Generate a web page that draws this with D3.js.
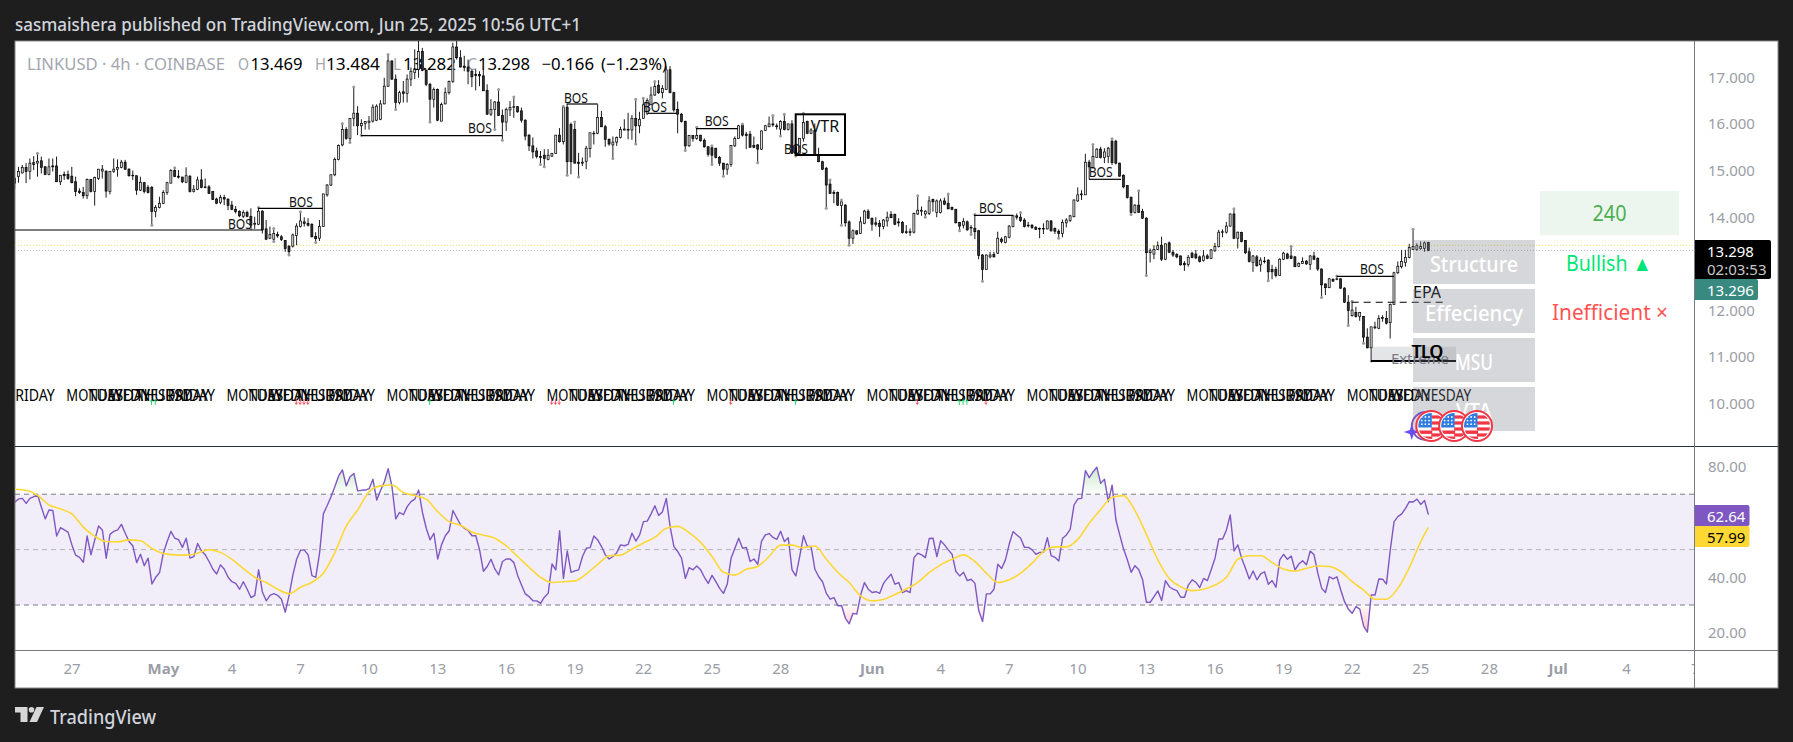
<!DOCTYPE html>
<html><head><meta charset="utf-8"><title>LINKUSD 4h</title>
<script src="https://cdn.jsdelivr.net/npm/d3@7/dist/d3.min.js"></script>
<style>html,body{margin:0;padding:0;background:#1e1e1e;overflow:hidden}svg{display:block}text{font-family:"Noto Sans",Roboto,sans-serif}</style>
</head><body><div id="c"></div>
<script>
const opens=[14.74,14.88,14.96,15.08,14.99,15.18,15.17,15.22,15.09,14.93,15.11,15.11,14.77,14.93,14.93,14.89,14.77,14.57,14.54,14.47,14.82,14.56,14.84,15.00,15.00,14.56,14.99,15.04,15.08,15.19,15.04,14.91,14.90,14.59,14.75,14.65,14.65,14.13,14.22,14.31,14.54,14.74,15.01,14.89,14.87,14.76,14.89,14.56,14.61,14.81,14.66,14.66,14.56,14.40,14.33,14.43,14.40,14.27,14.18,14.13,14.03,14.11,14.03,13.86,13.86,14.14,13.76,13.56,13.54,13.64,13.59,13.51,13.39,13.39,13.62,13.81,13.91,13.88,13.86,13.60,13.56,13.81,14.49,14.70,14.92,15.25,15.56,15.89,15.70,16.13,16.24,15.97,16.02,16.04,16.07,16.09,16.11,16.44,16.82,17.36,16.97,16.47,16.70,16.66,16.97,17.11,17.18,17.56,17.16,16.86,16.54,16.75,16.07,16.44,16.68,16.92,17.66,17.43,17.25,17.23,17.14,17.07,17.07,17.04,16.73,16.22,16.32,16.48,16.19,16.05,16.31,16.36,16.38,16.29,16.09,15.77,15.54,15.43,15.31,15.34,15.25,15.32,15.38,15.77,15.63,16.37,16.00,15.89,15.19,15.17,15.21,15.48,15.81,15.81,16.15,15.95,15.68,15.56,15.62,15.72,15.88,15.88,15.88,16.13,15.97,16.13,16.24,16.42,16.63,16.84,16.68,16.75,17.17,16.68,16.32,16.22,16.06,15.54,15.76,15.70,15.77,15.66,15.52,15.50,15.49,15.29,15.17,15.04,15.14,15.54,15.70,15.99,15.79,15.79,15.55,15.56,15.47,15.87,15.95,16.01,15.97,15.90,16.06,15.89,16.01,15.52,15.38,15.70,16.06,15.81,15.87,15.34,15.20,15.06,14.72,14.54,14.54,14.26,14.27,13.91,13.56,13.72,13.66,13.88,14.14,13.99,13.89,13.88,13.81,13.93,14.07,14.07,13.91,13.90,13.70,13.70,13.69,14.08,14.14,14.08,14.09,14.39,14.11,14.11,14.36,14.31,14.22,14.18,13.90,13.84,13.91,13.78,13.77,13.72,13.20,12.89,13.16,13.21,13.24,13.54,13.47,13.58,13.81,14.04,14.01,13.95,13.84,13.84,13.79,13.77,13.76,13.76,13.93,13.77,13.71,13.66,13.89,13.94,14.02,14.36,14.49,14.49,15.19,15.08,15.29,15.47,15.29,15.31,15.64,15.64,15.17,14.91,14.69,14.44,14.11,14.27,14.13,13.99,13.25,13.22,13.32,13.41,13.11,13.46,13.26,13.21,13.18,13.02,13.00,13.24,13.22,13.16,13.08,13.18,13.13,13.29,13.38,13.69,13.69,13.82,14.08,13.56,13.68,13.51,13.27,13.04,13.16,12.99,13.06,13.09,12.89,12.89,12.76,13.11,13.22,13.18,13.16,12.96,13.02,13.07,13.00,13.18,13.13,12.90,12.58,12.50,12.68,12.68,12.69,12.49,12.19,11.90,11.97,11.88,11.88,11.44,11.21,11.64,11.63,11.84,11.84,11.75,12.14,12.82,12.95,13.04,13.15,13.32,13.32,13.34,13.34,13.469];
const highs=[14.88,15.09,15.13,15.17,15.27,15.32,15.38,15.31,15.11,15.27,15.27,15.31,14.91,14.99,15.01,15.09,14.88,14.63,14.66,14.84,14.82,14.88,15.04,15.13,15.01,14.99,15.27,15.25,15.24,15.24,15.06,15.01,14.90,14.88,14.77,14.70,14.68,14.27,14.45,14.59,14.77,15.04,15.07,15.02,14.88,15.08,14.91,14.70,14.88,15.04,14.84,14.70,14.57,14.43,14.49,14.49,14.41,14.36,14.25,14.16,14.16,14.15,14.20,14.02,14.22,14.16,13.95,13.81,13.77,13.70,13.63,13.52,13.41,13.66,13.88,14.13,14.01,13.99,13.88,13.69,13.95,14.51,14.72,14.93,15.29,15.57,16.02,15.94,16.13,16.80,16.39,16.11,16.07,16.18,16.43,16.43,16.52,17.00,17.50,17.37,17.07,16.72,16.93,17.07,17.22,17.61,17.85,17.64,17.18,16.89,16.79,16.77,16.47,16.79,16.94,17.75,17.85,17.59,17.47,17.39,17.18,17.18,17.14,17.18,16.86,16.54,16.50,16.75,16.32,16.36,16.50,16.59,16.39,16.36,16.11,15.79,15.72,15.50,15.43,15.47,15.47,15.39,15.77,15.92,16.39,16.44,16.04,16.05,15.39,15.29,15.54,15.82,15.86,16.43,16.29,15.99,15.70,15.74,15.74,15.95,16.11,16.25,16.20,16.54,16.27,16.56,16.56,16.81,16.92,16.95,16.84,17.25,17.25,16.70,16.49,16.24,16.08,15.77,15.77,15.94,15.77,15.70,15.54,15.54,15.49,15.32,15.17,15.17,15.56,15.74,15.99,16.01,15.84,15.86,15.74,15.58,15.87,15.99,16.17,16.19,16.02,16.09,16.22,16.02,16.09,15.54,15.70,16.24,16.08,15.92,16.02,15.50,15.22,15.09,14.81,14.59,14.56,14.38,14.29,13.94,13.75,13.72,14.02,14.17,14.18,14.00,14.01,13.95,13.97,14.13,14.14,14.09,13.99,13.93,13.84,13.77,14.11,14.47,14.24,14.16,14.46,14.41,14.39,14.41,14.43,14.51,14.24,14.19,13.91,13.99,13.94,13.84,14.07,13.74,13.22,13.21,13.27,13.27,13.70,13.58,13.61,13.84,14.06,14.09,14.11,13.99,13.91,13.86,13.82,13.79,13.88,13.94,13.95,13.79,13.75,13.96,13.99,14.06,14.39,14.65,14.59,15.37,15.24,15.57,15.49,15.52,15.49,15.52,15.69,15.67,15.18,14.93,14.70,14.45,14.29,14.58,14.19,14.01,13.34,13.41,13.49,13.59,13.45,13.49,13.31,13.24,13.19,13.07,13.20,13.27,13.31,13.19,13.31,13.22,13.33,13.46,13.74,13.75,13.91,14.09,14.19,13.70,13.70,13.52,13.36,13.20,13.20,13.15,13.16,13.11,12.99,12.95,13.13,13.27,13.25,13.39,13.18,13.04,13.15,13.09,13.20,13.27,13.15,12.91,12.59,12.71,12.70,12.75,12.70,12.51,12.34,12.21,12.09,11.98,11.89,11.63,11.66,11.77,11.91,11.91,12.00,12.16,12.84,13.06,13.31,13.31,13.44,13.75,13.45,13.49,13.49,13.484];
const lows=[14.62,14.75,14.95,14.74,14.82,15.02,14.88,14.95,14.91,14.91,14.99,14.77,14.70,14.81,14.81,14.74,14.46,14.51,14.41,14.40,14.54,14.26,14.81,14.84,14.43,14.50,14.96,14.88,15.06,15.02,14.88,14.81,14.49,14.57,14.52,14.52,13.84,14.01,14.20,14.29,14.49,14.74,14.87,14.84,14.74,14.74,14.54,14.54,14.59,14.63,14.63,14.51,14.38,14.29,14.29,14.27,14.16,14.16,14.09,14.01,13.99,14.01,13.77,13.76,13.84,13.66,13.52,13.54,13.49,13.57,13.50,13.27,13.20,13.36,13.41,13.79,13.81,13.81,13.58,13.47,13.50,13.80,14.45,14.68,14.89,15.23,15.53,15.67,15.61,15.96,15.77,15.77,15.89,15.89,16.04,16.07,16.09,16.43,16.80,16.95,16.32,16.43,16.47,16.47,16.82,16.97,17.00,17.14,16.82,16.05,16.36,16.07,16.07,16.43,16.64,16.89,17.39,17.22,17.14,16.86,16.80,16.73,16.82,16.72,16.20,16.18,15.89,16.18,15.66,15.86,16.18,16.14,16.25,16.04,15.66,15.43,15.27,15.27,15.14,15.09,15.23,15.30,15.37,15.61,15.57,14.91,14.93,15.16,14.87,15.11,15.04,15.29,15.57,15.79,15.94,15.52,15.54,15.27,15.54,15.70,15.87,15.68,15.67,15.58,15.81,16.13,16.20,16.42,16.61,16.65,16.56,16.74,16.67,16.27,15.81,16.04,15.44,15.52,15.63,15.67,15.63,15.50,15.31,15.14,15.27,15.11,14.89,14.92,15.09,15.52,15.69,15.74,15.47,15.50,15.49,15.18,15.45,15.86,15.94,15.95,15.89,15.75,15.87,15.87,15.37,15.32,15.38,15.63,15.79,15.79,15.34,15.19,15.02,14.20,14.51,14.31,14.25,13.84,13.81,13.41,13.44,13.63,13.65,13.86,13.97,13.72,13.81,13.59,13.75,13.81,13.99,13.84,13.81,13.66,13.65,13.61,13.66,14.06,14.04,14.01,14.06,14.13,14.01,14.09,14.27,14.18,14.16,13.88,13.72,13.77,13.72,13.64,13.54,13.11,12.64,12.88,13.13,13.15,13.22,13.45,13.45,13.56,13.79,13.96,13.91,13.79,13.79,13.76,13.74,13.56,13.65,13.75,13.70,13.65,13.56,13.58,13.79,13.91,14.01,14.34,14.38,14.49,14.82,15.06,15.29,15.27,15.17,15.17,15.13,15.14,14.88,14.63,14.41,14.07,14.09,14.11,13.97,12.76,13.04,13.11,13.31,13.07,13.09,13.24,13.16,13.13,12.97,12.86,12.95,13.13,13.11,13.04,13.06,13.11,13.11,13.27,13.36,13.58,13.66,13.81,13.54,13.34,13.47,13.22,13.04,12.84,12.95,12.84,13.02,12.65,12.68,12.72,12.75,13.09,13.11,13.11,12.94,12.94,13.01,12.99,12.88,13.09,12.86,12.29,12.34,12.49,12.63,12.66,12.47,12.17,11.69,11.88,11.86,11.79,11.31,11.20,10.93,11.61,11.61,11.77,11.71,11.41,12.13,12.79,12.91,12.95,13.13,13.31,13.29,13.31,13.27,13.282];
const closes=[14.84,14.99,15.08,14.99,15.17,15.14,15.21,15.08,14.93,15.09,15.09,14.77,14.91,14.90,14.84,14.75,14.56,14.54,14.47,14.82,14.56,14.86,15.04,15.04,14.57,14.99,15.04,15.08,15.19,15.04,14.90,14.90,14.59,14.76,14.56,14.54,14.13,14.22,14.31,14.54,14.75,15.01,14.88,14.87,14.77,14.90,14.56,14.61,14.81,14.65,14.65,14.52,14.39,14.31,14.43,14.40,14.26,14.18,14.13,14.04,14.11,14.03,13.84,13.88,14.14,13.74,13.54,13.64,13.66,13.61,13.53,13.34,13.27,13.63,13.82,13.93,13.88,13.84,13.59,13.55,13.81,14.51,14.70,14.92,15.25,15.55,15.89,15.70,16.13,16.24,15.97,16.02,16.06,16.07,16.37,16.39,16.44,16.82,17.36,16.97,16.47,16.68,16.66,16.97,17.14,17.18,17.56,17.16,16.86,16.54,16.75,16.09,16.43,16.68,16.92,17.66,17.43,17.23,17.22,17.14,17.02,17.05,17.04,16.72,16.22,16.32,16.48,16.19,16.05,16.32,16.36,16.38,16.27,16.09,15.75,15.54,15.41,15.31,15.29,15.27,15.34,15.38,15.77,15.63,16.37,15.20,15.20,15.17,15.16,15.19,15.49,15.82,15.80,16.15,15.95,15.68,15.58,15.62,15.72,15.89,15.90,15.89,16.13,15.97,16.11,16.42,16.51,16.63,16.81,16.68,16.77,17.17,16.68,16.31,16.22,16.06,15.54,15.76,15.70,15.76,15.65,15.52,15.36,15.34,15.29,15.17,15.04,15.14,15.55,15.70,15.97,15.77,15.76,15.51,15.51,15.47,15.86,15.97,16.01,15.99,15.95,16.06,15.89,16.01,15.38,15.38,15.70,16.04,15.81,15.88,15.34,15.20,15.04,14.70,14.52,14.52,14.27,14.34,13.89,13.56,13.72,13.65,13.91,14.14,13.99,13.86,13.86,13.81,13.95,14.01,14.00,13.86,13.89,13.68,13.68,13.68,14.09,14.16,14.16,14.14,14.36,14.34,14.36,14.36,14.29,14.19,14.18,13.89,13.82,13.92,13.74,13.79,13.70,13.19,12.89,13.20,13.20,13.16,13.56,13.49,13.59,13.82,14.04,14.01,13.94,13.81,13.83,13.79,13.75,13.76,13.77,13.93,13.72,13.71,13.66,13.90,13.95,14.04,14.38,14.49,14.51,15.19,15.09,15.31,15.47,15.29,15.41,15.49,15.18,15.17,14.89,14.66,14.43,14.11,14.27,14.11,13.99,13.25,13.29,13.32,13.40,13.11,13.44,13.26,13.20,13.16,12.99,12.99,13.15,13.15,13.14,13.06,13.18,13.13,13.31,13.38,13.69,13.70,13.82,14.08,13.56,13.69,13.49,13.25,13.06,13.18,12.97,13.09,13.07,12.84,12.84,12.76,13.11,13.24,13.13,13.13,12.95,13.02,13.06,13.01,13.18,13.11,12.90,12.56,12.50,12.69,12.64,12.69,12.49,12.19,12.01,12.02,11.88,11.97,11.44,11.21,11.66,11.66,11.84,11.86,11.74,12.14,12.82,12.96,13.06,13.15,13.36,13.38,13.40,13.38,13.46,13.298];
const rsiValues=[67.1,68.3,68.5,66.7,68.5,69.1,69.7,65.3,61.1,64.3,64.1,54.9,57.9,57.1,56.3,51.7,48.0,47.2,45.4,54.9,48.1,53.5,58.5,57.1,46.9,55.5,56.6,57.1,59.1,55.9,52.9,51.3,45.3,48.3,44.2,46.9,37.6,40.0,41.7,48.7,52.9,56.6,54.1,53.6,50.8,54.1,46.9,47.5,52.2,49.5,48.1,45.7,42.9,41.2,44.5,42.9,40.0,38.4,37.8,35.7,38.4,35.7,32.7,33.5,42.7,34.7,31.5,33.5,34.1,33.5,32.1,27.4,33.5,40.9,46.6,49.8,49.8,48.1,40.6,40.0,48.7,62.9,65.9,69.1,72.7,76.6,78.75,73.0,76.3,77.5,71.2,71.4,71.5,72.0,75.4,67.9,71.3,74.5,79.2,72.7,61.1,63.4,62.6,65.5,67.3,68.2,71.5,63.4,57.7,53.5,55.9,46.6,51.7,55.0,56.7,64.1,61.5,58.9,57.7,56.9,55.0,55.0,49.9,42.2,43.9,46.5,43.0,40.9,45.7,46.6,46.6,45.3,40.6,37.2,34.0,33.0,31.5,31.5,30.6,32.8,34.2,44.8,42.7,56.8,39.6,49.5,41.8,42.3,42.7,47.5,50.5,50.7,54.9,53.5,51.1,48.1,46.6,47.5,48.9,51.7,51.4,51.9,55.9,53.1,55.3,60.1,60.3,62.9,65.8,62.3,63.7,68.5,58.3,51.1,49.3,46.9,39.6,43.5,42.7,44.1,42.7,40.0,37.8,40.7,38.4,36.0,34.2,37.6,46.9,50.5,54.1,50.5,50.8,45.7,46.6,44.7,53.1,55.3,55.8,54.4,53.7,56.6,52.9,54.3,42.7,40.5,47.5,55.0,51.1,51.1,42.9,40.2,38.4,34.2,32.1,32.7,29.7,29.8,25.2,23.2,27.0,26.7,33.6,38.1,35.7,34.5,34.8,34.2,37.8,39.6,41.1,37.5,38.1,34.5,35.2,34.5,47.1,48.7,48.1,47.1,54.0,54.1,47.5,53.2,51.7,49.9,48.3,42.1,40.5,41.8,38.8,39.3,37.8,28.0,24.0,34.0,34.0,35.7,44.7,43.2,46.3,52.0,56.5,55.3,54.1,50.8,50.8,49.9,48.3,49.0,49.0,54.3,47.8,47.2,45.9,54.1,55.3,57.3,66.1,68.3,68.5,78.5,76.0,78.1,79.7,73.9,75.4,67.3,73.3,60.7,55.3,50.2,46.3,41.8,44.2,42.7,39.1,31.0,31.0,33.0,35.1,31.6,38.8,36.6,35.7,35.2,32.8,32.8,37.2,39.1,38.2,36.3,39.6,38.8,42.7,46.9,53.8,53.8,57.1,62.5,49.5,51.7,46.9,43.3,39.4,42.3,39.1,41.2,42.0,37.5,38.8,36.4,46.3,48.3,46.5,47.7,42.7,44.8,46.0,44.5,49.5,48.1,41.4,36.0,34.5,40.2,39.4,40.2,35.4,31.2,28.5,27.0,29.4,28.5,22.4,20.2,33.6,33.6,39.4,39.3,37.6,49.9,60.1,61.9,62.9,64.9,67.3,67.2,68.2,66.3,67.7,62.64];
// RSI moving average as read every third bar, plus the latest bar
const rsiMaValues=[71.8,71.4,69.6,66.1,64.7,62.9,58.1,54.8,52.9,52.8,53.5,53.2,50.4,48.6,48.1,48.0,48.7,50.0,49.0,46.5,43.1,40.0,38.1,35.7,34.1,36.4,38.2,41.5,48.9,58.5,64.3,70.9,73.0,73.3,70.6,69.5,68.2,63.7,60.1,58.8,56.3,55.2,54.1,51.3,47.5,43.6,40.0,38.1,38.4,38.7,41.2,44.7,47.8,48.0,50.2,52.4,54.4,57.7,58.4,56.1,52.6,47.5,41.8,40.8,42.9,43.9,47.6,51.6,51.6,50.7,51.3,46.5,41.8,38.1,33.3,31.5,32.0,33.8,35.8,38.2,41.7,44.5,46.5,48.1,45.7,41.5,38.1,39.1,41.5,45.1,49.3,51.0,51.0,53.7,59.5,64.5,68.9,69.5,64.1,55.5,46.3,39.6,36.6,35.2,35.7,37.2,40.0,46.5,47.8,47.8,45.3,43.0,42.2,43.3,44.1,43.9,42.1,38.4,35.4,32.1,32.1,36.0,43.5,52.9,57.99];
const pivotHighBars=[6,42,64,68,75,86,89,98,127,131,144,147,163,165,168,179,183,191,199,202,207,214,217,237,245,252,264,283,288,295,320,335,347,351,367];
const pivotLowBars=[36,62,68,72,79,88,91,100,109,126,128,138,139,145,148,157,163,176,183,186,195,201,205,213,217,219,239,248,251,254,274,293,297,329,343,350,354,356];
const signalUpBars=[36,37,109,173,205,248,249,250];
const signalDownBars=[74,75,76,77,141,142,143,188,237,255];
const priceTicks=[10,11,12,14,15,16,17];
const rsiTicks=[20,40,80];
const weekdayNames=["MONDAY","TUESDAY","WEDNESDAY","THURSDAY","FRIDAY"];
const dateTicks=[[2025,3,27],[2025,4,1],[2025,4,4],[2025,4,7],[2025,4,10],[2025,4,13],[2025,4,16],[2025,4,19],[2025,4,22],[2025,4,25],[2025,4,28],[2025,5,1],[2025,5,4],[2025,5,7],[2025,5,10],[2025,5,13],[2025,5,16],[2025,5,19],[2025,5,22],[2025,5,25],[2025,5,28],[2025,6,1],[2025,6,4],[2025,6,7]].map(a=>new Date(Date.UTC(...a)));
const tableRows=["Structure","Effeciency","MSU","VTA"];
const lastPrice=13.298, ownPrice=13.296, yellowLevel=13.408, rsiLast=62.64, maLast=57.99;

const W=1793,H=742,PL=15,PR=1694,PE=1778,PT=41,PB=446,RB=650,BT=688;
const FOUR=4*3600e3, T0=Date.UTC(2025,3,24,12);
const barDate=i=>new Date(T0+i*FOUR);
const x=d3.scaleUtc().domain([Date.UTC(2025,3,27),Date.UTC(2025,6,7)]).range([71.5,1694.7]);
const y=d3.scaleLinear().domain([10,17]).range([404.3,77.75]);
const yR=d3.scaleLinear().domain([20,80]).range([632.7,466.5]);
const svg=d3.select("#c").append("svg").attr("width",W).attr("height",H).attr("viewBox",`0 0 ${W} ${H}`);
const defs=svg.append("defs");
const clip=(id,a,b,c,d)=>defs.append("clipPath").attr("id",id).append("rect").attr("x",a).attr("y",b).attr("width",c-a).attr("height",d-b);
clip("mainClip",PL,PT,PR,PB);clip("rsiClip",PL,PB,PR,RB);clip("timeClip",PL,RB,PR,BT);
clip("obClip",PL,PB,PR,yR(70));clip("osClip",PL,yR(30),PR,RB);
const g1=defs.append("linearGradient").attr("id","gOb").attr("x1",0).attr("x2",0).attr("y1",0).attr("y2",1);
g1.append("stop").attr("offset",0).attr("stop-color","#4caf50").attr("stop-opacity",.28);g1.append("stop").attr("offset",1).attr("stop-color","#4caf50").attr("stop-opacity",.02);
const g2=defs.append("linearGradient").attr("id","gOs").attr("x1",0).attr("x2",0).attr("y1",0).attr("y2",1);
g2.append("stop").attr("offset",0).attr("stop-color","#f23645").attr("stop-opacity",.02);g2.append("stop").attr("offset",1).attr("stop-color","#f23645").attr("stop-opacity",.3);

svg.append("rect").attr("width",W).attr("height",H).attr("fill","#1e1e1e");
svg.append("rect").attr("x",PL).attr("y",PT).attr("width",PE-PL).attr("height",BT-PT).attr("fill","#fff").attr("stroke","#8a8a8a");
const txt=(p,s,a,b,o={})=>{const t=p.append("text").attr("x",a).attr("y",b).attr("dominant-baseline","central").attr("font-size",o.size||14).attr("fill",o.fill||"#000").attr("text-anchor",o.anchor||"start").text(s);
 if(o.weight)t.attr("font-weight",o.weight);if(o.len)t.attr("textLength",o.len).attr("lengthAdjust","spacingAndGlyphs");return t;};

txt(svg,"sasmaishera published on TradingView.com, Jun 25, 2025 10:56 UTC+1",15,23.5,{size:18,fill:"#d1d4dc",weight:500,len:566});

// header legend
const hd=svg.append("g");
const hg="#a3a6af";
[["LINKUSD · 4h · COINBASE",27,hg,198],["O",238,hg,11],["13.469",250.5,"#000",52],["H",315,hg,11],["13.484",326,"#000",54],["L",393,hg,8],["13.282",403,"#000",53],["C",467,hg,10],["13.298",478,"#000",52],["−0.166",541.5,"#000",52.5],["(−1.23%)",601,"#000",66]].forEach(d=>txt(hd,d[0],d[1],63.5,{size:17,fill:d[2],len:d[3]}));

// main pane
const main=svg.append("g").attr("clip-path","url(#mainClip)");
main.append("line").attr("x1",PL).attr("x2",PR).attr("y1",y(yellowLevel)).attr("y2",y(yellowLevel)).attr("stroke","#f5e050").attr("stroke-dasharray","1 2");
main.append("line").attr("x1",PL).attr("x2",PR).attr("y1",y(lastPrice)).attr("y2",y(lastPrice)).attr("stroke","#b8bbc2").attr("stroke-dasharray","1 2");
const bars=d3.range(closes.length);
main.append("g").selectAll("line").data(bars).join("line").attr("x1",i=>x(barDate(i))+.3).attr("x2",i=>x(barDate(i))+.3).attr("y1",i=>y(highs[i])).attr("y2",i=>y(lows[i])).attr("stroke","#000").attr("stroke-width",.9);
main.append("g").selectAll("rect").data(bars).join("rect").attr("x",i=>x(barDate(i))-.7).attr("width",2)
 .attr("y",i=>y(Math.max(opens[i],closes[i]))).attr("height",i=>Math.max(.6,Math.abs(y(opens[i])-y(closes[i]))))
 .attr("fill",i=>closes[i]>=opens[i]?"#dcdcdc":"#333").attr("stroke","#000").attr("stroke-width",.7);
const dots=main.append("g").attr("fill","#9a9a9a");
pivotHighBars.forEach(i=>dots.append("circle").attr("cx",x(barDate(i))+.3).attr("cy",y(highs[i])).attr("r",1.5));
pivotLowBars.forEach(i=>dots.append("circle").attr("cx",x(barDate(i))+.3).attr("cy",y(lows[i])).attr("r",1.5));

// structure annotations
const bosLines=[[15,263,230,240,223],[258,323,208.3,301,201],[361,502,135.7,480,127],[566.7,597.7,104,576,97.7],[648,676.7,113.3,655,106],[696,738,128.7,716.7,120],[795,816,155,796,148],[974,1013,215.3,991,207],[1089,1121,179.3,1100.7,171],[1336.7,1394,276.3,1372,268]];
const ann=main.append("g");
bosLines.forEach(b=>{ann.append("line").attr("x1",b[0]).attr("x2",b[1]).attr("y1",b[2]).attr("y2",b[2]).attr("stroke","#000").attr("stroke-width",1.2);
 txt(ann,"BOS",b[3],b[4],{size:14,anchor:"middle",fill:"#111",len:24});});
ann.append("rect").attr("x",795.7).attr("y",114.3).attr("width",49.3).attr("height",40.7).attr("fill","none").attr("stroke","#000").attr("stroke-width",2);
txt(ann,"VTR",825,125.7,{size:16,anchor:"middle",fill:"#111"});
ann.append("line").attr("x1",1351.7).attr("x2",1442.7).attr("y1",302.3).attr("y2",302.3).attr("stroke","#000").attr("stroke-width",1.1).attr("stroke-dasharray","7 5");
txt(ann,"EPA",1427,291.7,{size:16.5,anchor:"middle",len:28});
ann.append("rect").attr("x",1371).attr("y",346.7).attr("width",85).attr("height",14.3).attr("fill","rgba(120,123,134,.2)");
ann.append("line").attr("x1",1371).attr("x2",1456).attr("y1",361).attr("y2",361).attr("stroke","#000").attr("stroke-width",2);

// weekday labels
const dayShift=[0,25,56,78,97];
const wk=main.append("g");
d3.range(-1,9).forEach(w=>weekdayNames.forEach((n,k)=>{const d=Date.UTC(2025,3,28+7*w+k);if(d>Date.UTC(2025,5,25)||d<Date.UTC(2025,3,25))return;
 txt(wk,n,x(new Date(Date.UTC(2025,3,28+7*w)))+dayShift[k],394,{size:17,anchor:"middle",len:{MONDAY:56,TUESDAY:62,WEDNESDAY:81,THURSDAY:74,FRIDAY:47}[n]});}));
const sig=main.append("g");
signalUpBars.forEach(i=>{const a=x(barDate(i));sig.append("path").attr("d",`M${a},405V400M${a-1.3},401.5L${a},399.5L${a+1.3},401.5`).attr("stroke","#00c853").attr("fill","none").attr("stroke-width",.8);});
signalDownBars.forEach(i=>{const a=x(barDate(i));sig.append("path").attr("d",`M${a},399V404M${a-1.3},402.5L${a},404.5L${a+1.3},402.5`).attr("stroke","#f23645").attr("fill","none").attr("stroke-width",.8);});

// dashboard table
const tb=svg.append("g");
const rowTop=[240,289,338,387];
tableRows.forEach((r,k)=>{tb.append("rect").attr("x",1413).attr("y",rowTop[k]).attr("width",122).attr("height",44).attr("fill","rgba(120,123,134,.3)");
 txt(tb,r,1474,rowTop[k]+22.5,{size:22,anchor:"middle",fill:"#fff",weight:500,len:{Structure:88,Effeciency:98,MSU:38,VTA:36}[r]});});
txt(tb,"Extreme",1420,358.7,{size:14,anchor:"middle",fill:"#787b86",len:58});
txt(tb,"TLQ",1427,351,{size:18,anchor:"middle",len:31});txt(tb,"TLQ",1428,351,{size:18,anchor:"middle",len:31});
tb.append("rect").attr("x",1540).attr("y",191).attr("width",139).attr("height",44).attr("fill","#edf6ee");
txt(tb,"240",1609.5,213,{size:21,anchor:"middle",fill:"#4caf50",len:34});
txt(tb,"Bullish ▲",1609,262.5,{size:21,anchor:"middle",fill:"#00e676",len:86});
txt(tb,"Inefficient ×",1610,312,{size:21,anchor:"middle",fill:"#ff5252",len:116});

// economic events
const evDates=[Date.UTC(2025,5,25,12),Date.UTC(2025,5,26,12),Date.UTC(2025,5,27,12)];
const ev=svg.append("g");
const ex=x(new Date(Date.UTC(2025,5,24,15)));
ev.append("circle").attr("cx",ex+14).attr("cy",426).attr("r",14).attr("fill","none").attr("stroke","#7e57c2").attr("stroke-width",2);
ev.append("path").attr("d",`M${ex},424L${ex+1.9},430.1L${ex+8},432L${ex+1.9},433.9L${ex},440L${ex-1.9},433.9L${ex-8},432L${ex-1.9},430.1Z`).attr("fill","#6a4cf5");
evDates.forEach((d,k)=>{const c=x(new Date(d))-.5,id="fl"+k;
 defs.append("clipPath").attr("id",id).append("circle").attr("cx",c).attr("cy",426).attr("r",13);
 const f=ev.append("g");
 f.append("circle").attr("cx",c).attr("cy",426).attr("r",15).attr("fill","#fff").attr("stroke","#f23645").attr("stroke-width",2);
 const q=f.append("g").attr("clip-path",`url(#${id})`);
 q.append("rect").attr("x",c-14).attr("y",412).attr("width",28).attr("height",28).attr("fill","#fff");
 [418,424,430,436].forEach(t=>q.append("rect").attr("x",c).attr("y",t-2.6).attr("width",14).attr("height",3.2).attr("fill","#f23645"));
 q.append("rect").attr("x",c-14).attr("y",430.5).attr("width",15).attr("height",3.4).attr("fill","#f23645");
 q.append("rect").attr("x",c-14).attr("y",436.5).attr("width",15).attr("height",3.4).attr("fill","#f23645");
 q.append("rect").attr("x",c-14).attr("y",412).attr("width",14.5).attr("height",15.5).attr("fill","#2f7de1");
 d3.range(3).forEach(a=>d3.range(3).forEach(b=>q.append("circle").attr("cx",c-9.5+a*3.6).attr("cy",417+b*3.6).attr("r",.9).attr("fill","#fff")));
});

// RSI pane
const rsi=svg.append("g").attr("clip-path","url(#rsiClip)");
rsi.append("rect").attr("x",PL).attr("width",PR-PL).attr("y",yR(70)).attr("height",yR(30)-yR(70)).attr("fill","rgba(126,87,194,.1)");
[[70,"#787b86"],[50,"#b3b5bc"],[30,"#787b86"]].forEach(d=>rsi.append("line").attr("x1",PL).attr("x2",PR).attr("y1",yR(d[0])).attr("y2",yR(d[0])).attr("stroke",d[1]).attr("stroke-dasharray","5 4"));
const rx=i=>x(barDate(i))+.4;
rsi.append("g").attr("clip-path","url(#obClip)").append("path").datum(bars).attr("fill","url(#gOb)").attr("d",d3.area().x(rx).y0(yR(70)).y1(i=>Math.min(yR(rsiValues[i]),yR(70))));
rsi.append("g").attr("clip-path","url(#osClip)").append("path").datum(bars).attr("fill","url(#gOs)").attr("d",d3.area().x(rx).y0(yR(30)).y1(i=>Math.max(yR(rsiValues[i]),yR(30))));
rsi.append("path").datum(bars).attr("fill","none").attr("stroke","#7e57c2").attr("stroke-width",1.4).attr("stroke-linejoin","round").attr("d",d3.line().x(rx).y(i=>yR(rsiValues[i])));
const maBars=d3.range(0,370,3).concat([371]);
rsi.append("path").datum(maBars.map((b,k)=>[b,rsiMaValues[k]])).attr("fill","none").attr("stroke","#fdd835").attr("stroke-width",1.6).attr("d",d3.line().x(d=>rx(d[0])).y(d=>yR(d[1])).curve(d3.curveMonotoneX));

// frame lines
const L=(a,b,c,d,s)=>svg.append("line").attr("x1",a).attr("y1",b).attr("x2",c).attr("y2",d).attr("stroke",s);
L(PL,PB+.5,PE,PB+.5,"#2a2e39");L(PL,RB+.5,PE,RB+.5,"#787b86");L(PR+.5,PT,PR+.5,BT,"#787b86");

// axes
const styleAxis=(g,fill,size)=>{g.select(".domain").remove();g.selectAll("line").remove();g.selectAll("text").attr("fill",fill).attr("font-size",size);};
const pa=svg.append("g").attr("transform",`translate(${PR},-.5)`).call(d3.axisRight(y).tickValues(priceTicks).tickFormat(d3.format(".3f")).tickSize(0).tickPadding(14));
styleAxis(pa,"#9a9da6",15);
const ra=svg.append("g").attr("transform",`translate(${PR},0)`).call(d3.axisRight(yR).tickValues(rsiTicks).tickFormat(d3.format(".2f")).tickSize(0).tickPadding(14));
styleAxis(ra,"#9a9da6",15);
const fmtDate=d=>d.getUTCDate()===1?d3.utcFormat("%b")(d):String(d.getUTCDate());
const ta=svg.append("g").attr("clip-path","url(#timeClip)").append("g").attr("transform",`translate(0,${RB+13})`).call(d3.axisBottom(x).tickValues(dateTicks).tickFormat(fmtDate).tickSize(0).tickPadding(0));
styleAxis(ta,"#9a9da6",15);
ta.selectAll("text").attr("dy",".71em").attr("font-weight",d=>d.getUTCDate()===1?700:400);

// price labels
const lab=(a,b,w,h,fill)=>{svg.append("path").attr("d",`M${a},${b}H${a+w-2}a2,2 0 0 1 2,2V${b+h-2}a2,2 0 0 1 -2,2H${a}Z`).attr("fill",fill);};
lab(PR+1,240,76,39,"#000");
txt(svg,d3.format(".3f")(lastPrice),1707,251,{size:15,fill:"#fff"});
txt(svg,"02:03:53",1707,268.5,{size:15,fill:"#c9c9c9"});
lab(PR+1,279,63,21,"#388a80");
txt(svg,d3.format(".3f")(ownPrice),1707,289.5,{size:15,fill:"#fff"});
lab(PR+1,505,54.5,21,"#7e57c2");
txt(svg,d3.format(".2f")(rsiLast),1707,516,{size:15,fill:"#fff"});
lab(PR+1,526,54.5,21,"#fdd835");
txt(svg,d3.format(".2f")(maLast),1707,537,{size:15,fill:"#000"});

// footer logo
const lg=svg.append("g").attr("fill","#d6d6d6");
lg.append("path").attr("d","M15,707H27.5V722H20.5V712.5H15Z");
lg.append("circle").attr("cx",31.5).attr("cy",709.8).attr("r",2.8);
lg.append("path").attr("d","M36.5,707H44L37,722H29.5Z");
txt(svg,"TradingView",50,716.5,{size:19,fill:"#d1d4dc",weight:500,len:106});
</script></body></html>
